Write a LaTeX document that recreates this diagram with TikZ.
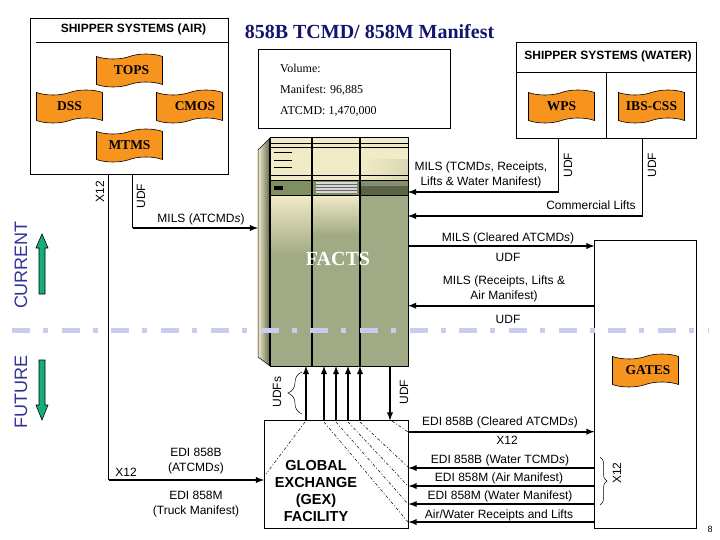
\documentclass[tikz,border=0pt]{standalone}
\usepackage{fontspec}
\setmainfont{Liberation Sans}
\newfontfamily\serifface{Liberation Serif}
\usepackage{tikz}
\usetikzlibrary{arrows, positioning, calc, shapes.symbols, decorations.pathreplacing}

\definecolor{flagorange}{HTML}{F7941D}
\definecolor{titlenavy}{HTML}{14146E}
\definecolor{sidenavy}{HTML}{33339A}
\definecolor{arrowteal}{HTML}{14AE7C}
\definecolor{cutline}{HTML}{C8CCEE}
\definecolor{cream}{HTML}{F2EBC8}
\definecolor{sage}{HTML}{A0AA84}
\definecolor{bandgreen}{HTML}{7F8F62}

\tikzset{
  boxed/.style={draw, line width=.8pt, anchor=north west, inner sep=0pt, outer sep=0pt},
  flag/.style={tape, draw, line width=.6pt, fill=flagorange, minimum width=66pt, minimum height=33pt,
    tape bend height=5pt, inner sep=0pt, outer sep=0pt, font=\serifface\bfseries\fontsize{13.5}{15}\selectfont},
  lbl/.style={font=\fontsize{12}{15}\selectfont, align=center, inner sep=0pt},
  vollbl/.style={font=\serifface\fontsize{12}{14}\selectfont, anchor=west, inner sep=0pt},
  flow/.style={line width=1.8pt, -latex},
  thin line/.style={line width=.8pt},
  fan/.style={line width=.5pt, dash pattern=on 3pt off 2pt on 1pt off 2pt},
  bigarrow/.style={line width=.6pt, fill=arrowteal},
}

\begin{document}
\begin{tikzpicture}[x=1pt,y=-1pt]
  \useasboundingbox (0,0) rectangle (720,540);

  % server
  \shade[left color=cream, right color=sage!60!black] (258,150) -- (270,138) -- (270,366) -- (258,357) -- cycle;
  \draw[line width=.5pt] (258,150) -- (270,138) (258,150) -- (258,357) -- (270,366);
  \fill[sage] (270,138) rectangle (408,366);
  \fill[cream] (270,138) rectangle (408,180);
  \shade[shading angle=20, top color=cream, bottom color=sage] (270,195) rectangle (312,255);
  \shade[shading angle=40, top color=cream, bottom color=sage] (312,195) rectangle (360,235);
  \shade[left color=cream, right color=cream!70!sage] (360,160) rectangle (408,180);
  \fill[bandgreen] (270,180) rectangle (408,195);
  \fill[bandgreen!70!black] (360,186) rectangle (408,195);
  \node (facts) [draw, line width=1pt, anchor=north west, minimum width=138pt, minimum height=228pt, inner sep=0pt, outer sep=0pt] at (270,138) {};
  \foreach \x in {270,312,360} \draw[line width=1.5pt] (\x,138) -- (\x,366);
  \foreach \y in {143,147,175} \draw[line width=.6pt] (270,\y) -- (408,\y);
  \draw[line width=.6pt] (270,180) -- (408,180) (270,195) -- (408,195);
  \foreach \y in {152,160,167} \draw[line width=.5pt] (274,\y) -- (292,\y);
  \fill (274,186) rectangle (283,190);
  \fill[white!85!black] (316,182) rectangle (357,193);
  \foreach \y in {184,187,190} \draw[line width=.6pt, black!60] (316,\y) -- (357,\y);
  \foreach \y in {182,185} \draw[line width=.8pt, black!45] (364,\y) -- (405,\y);
  \node (factslabel) [font=\serifface\bfseries\fontsize{20}{22}\selectfont, text=white, inner sep=0pt] at (338,259) {FACTS};

  % boxes
  \node (air) [boxed, minimum width=198pt, minimum height=156pt] at (30.5,18.5) {};
  \node (volume) [boxed, minimum width=192pt, minimum height=79pt] at (258.5,49.5) {};
  \node (water) [boxed, minimum width=180pt, minimum height=95.5pt] at (516.5,42.5) {};
  \node (gates) [boxed, fill=white, minimum width=102pt, minimum height=288.5pt] at (594.5,240) {};
  \node (gex) [boxed, minimum width=144pt, minimum height=107.5pt] at (264.5,420.5) {};

  \draw[thin line] (36,42.5) -- (air.east |- 36,42.5);
  \draw[thin line] (water.west |- 0,72.5) -- (water.east |- 0,72.5);
  \draw[thin line] (606.7,72.5) -- (606.7,138);

  \node (airtitle) [font=\bfseries\fontsize{12}{14}\selectfont, inner sep=0pt] at (133.5,29) {SHIPPER SYSTEMS (AIR)};
  \node (watertitle) [font=\bfseries\fontsize{12}{14}\selectfont, inner sep=0pt] at (608,56) {SHIPPER SYSTEMS (WATER)};
  \node (title) [font=\serifface\bfseries\fontsize{20}{22}\selectfont, text=titlenavy, inner sep=0pt] at (369.5,32) {858B TCMD/ 858M Manifest};

  % flags
  \node (tops) [flag] at (129.5,70.5) {\hspace*{4pt}TOPS};
  \node (dss) [flag] at (69.5,106.5) {DSS};
  \node (cmos) [flag] at (189.5,106.5) {\hspace*{11pt}CMOS};
  \node (mtms) [flag] at (129.5,145.5) {MTMS};
  \node (wps) [flag] at (561.5,106.5) {WPS};
  \node (ibs) [flag] at (651.5,106.5) {IBS-CSS};
  \node (gatesflag) [flag] at (645.5,370.5) {\hspace*{5pt}GATES};

  % volume
  \node (vol) [vollbl] at (280,68) {Volume:};
  \node (man) [vollbl] at (280,90) {Manifest: 96,885};
  \node (atc) [vollbl] at (280,111) {ATCMD: 1,470,000};

  % connectors
  \coordinate (x12top) at (108.5,174.5);
  \coordinate (udftop) at (132.5,174.5);
  \coordinate (wpsdown) at (558.7,138);
  \coordinate (ibsdown) at (642.7,138);
  \coordinate (inmils) at (258,228);
  \coordinate (ingex) at (264,480);
  \coordinate (intcmd) at (408,192);
  \coordinate (inlift) at (408,216);

  \draw[thin line] (x12top) -- (x12top |- ingex);
  \draw[flow] (x12top |- ingex) -- (ingex);
  \draw[thin line] (udftop) -- (udftop |- inmils);
  \draw[flow] (udftop |- inmils) -- (inmils);
  \draw[thin line] (wpsdown) -- (wpsdown |- intcmd);
  \draw[flow] (wpsdown |- intcmd) -- (intcmd);
  \draw[thin line] (ibsdown) -- (ibsdown |- inlift);
  \draw[flow] (ibsdown |- inlift) -- (inlift);

  \draw[flow] (facts.east |- 0,246) -- (gates.west |- 0,246);
  \draw[flow] (gates.west |- 0,305.7) -- (facts.east |- 0,305.7);

  \foreach \x in {306,324,336,348,360} \draw[flow] (gex.north -| \x,0) -- (facts.south -| \x,0);
  \draw[flow] (facts.south -| 390,0) -- (gex.north -| 390,0);

  \draw[flow] (gex.east |- 0,431.7) -- (gates.west |- 0,431.7);
  \foreach \y in {468,486,504,522} \draw[flow] (gates.west |- 0,\y) -- (gex.east |- 0,\y);

  % lines inside the gex box
  \draw[fan] (305,422) -- (266,474);
  \draw[fan] (324,422) -- (408,522);
  \draw[fan] (336,422) -- (408,504);
  \draw[fan] (348,422) -- (408,486);
  \draw[fan] (360,422) -- (408,467);
  \draw[fan] (392,421) -- (408,432);

  % braces
  \draw[line width=.5pt, decorate, decoration={brace, amplitude=14pt}] (302,414) -- (302,372);
  \draw[line width=.5pt, decorate, decoration={brace, amplitude=7pt}] (600,457) -- (600,505);

  % labels
  \node (lx12) [lbl, rotate=90] at (100,192) {X12};
  \node (ludf) [lbl, rotate=90] at (141,196) {UDF};
  \node (lmilsa) [lbl] at (201,219) {MILS (ATCMD{\itshape s})};
  \node (lx12b) [lbl] at (126,472) {X12};
  \node (ledib) [lbl] at (196,461.5) {EDI 858B\\(ATCMD{\itshape s})};
  \node (ledim) [lbl] at (196,504.5) {EDI 858M\\(Truck Manifest)};
  \node (lgex) [lbl, font=\bfseries\fontsize{14.5}{17}\selectfont] at (316,491) {GLOBAL\\EXCHANGE\\(GEX)\\FACILITY};
  \node (lmilst) [lbl] at (481,174.5) {MILS (TCMD{\itshape s}, Receipts,\\Lifts \& Water Manifest)};
  \node (ludfw) [lbl, rotate=90] at (568,165) {UDF};
  \node (ludfi) [lbl, rotate=90] at (652,165) {UDF};
  \node (lcomm) [lbl] at (591,205) {Commercial Lifts};
  \node (lmilsc) [lbl] at (508,238) {MILS (Cleared ATCMD{\itshape s})};
  \node (ludfc) [lbl] at (508,257) {UDF};
  \node (lmilsr) [lbl] at (504,288.5) {MILS (Receipts, Lifts \&\\Air Manifest)};
  \node (ludfr) [lbl] at (508,319) {UDF};
  \node (ludfs) [lbl, rotate=90] at (277,392) {UDFs};
  \node (ludfd) [lbl, rotate=90] at (404,392) {UDF};
  \node (ledic) [lbl] at (500,422) {EDI 858B (Cleared ATCMD{\itshape s})};
  \node (lx12c) [lbl] at (507,440) {X12};
  \node (lediw) [lbl] at (500,460) {EDI 858B (Water TCMD{\itshape s})};
  \node (lediam) [lbl] at (499,478) {EDI 858M (Air Manifest)};
  \node (lediwm) [lbl] at (500,496) {EDI 858M (Water Manifest)};
  \node (lrec) [lbl] at (499,515) {Air/Water Receipts and Lifts};
  \node (lx12r) [lbl, rotate=90] at (617,473) {X12};
  \node (lpage) [lbl, font=\fontsize{9}{10}\selectfont] at (710,529) {8};

  % current and future
  \node (current) [lbl, rotate=90, font=\fontsize{18}{20}\selectfont, text=sidenavy] at (21,265) {CURRENT};
  \node (future) [lbl, rotate=90, font=\fontsize{18}{20}\selectfont, text=sidenavy] at (21,392) {FUTURE};
  \draw[bigarrow] (39,294) -- (39,248) -- (36,248) -- (42,234) -- (48,248) -- (45,248) -- (45,294) -- cycle;
  \draw[bigarrow] (39,360) -- (39,405) -- (36,405) -- (42,420) -- (48,405) -- (45,405) -- (45,360) -- cycle;

  \draw[cutline, line width=5pt, dash pattern=on 18pt off 13pt on 5pt off 13.7pt] (12,330) -- (708,330);
\end{tikzpicture}
\end{document}
